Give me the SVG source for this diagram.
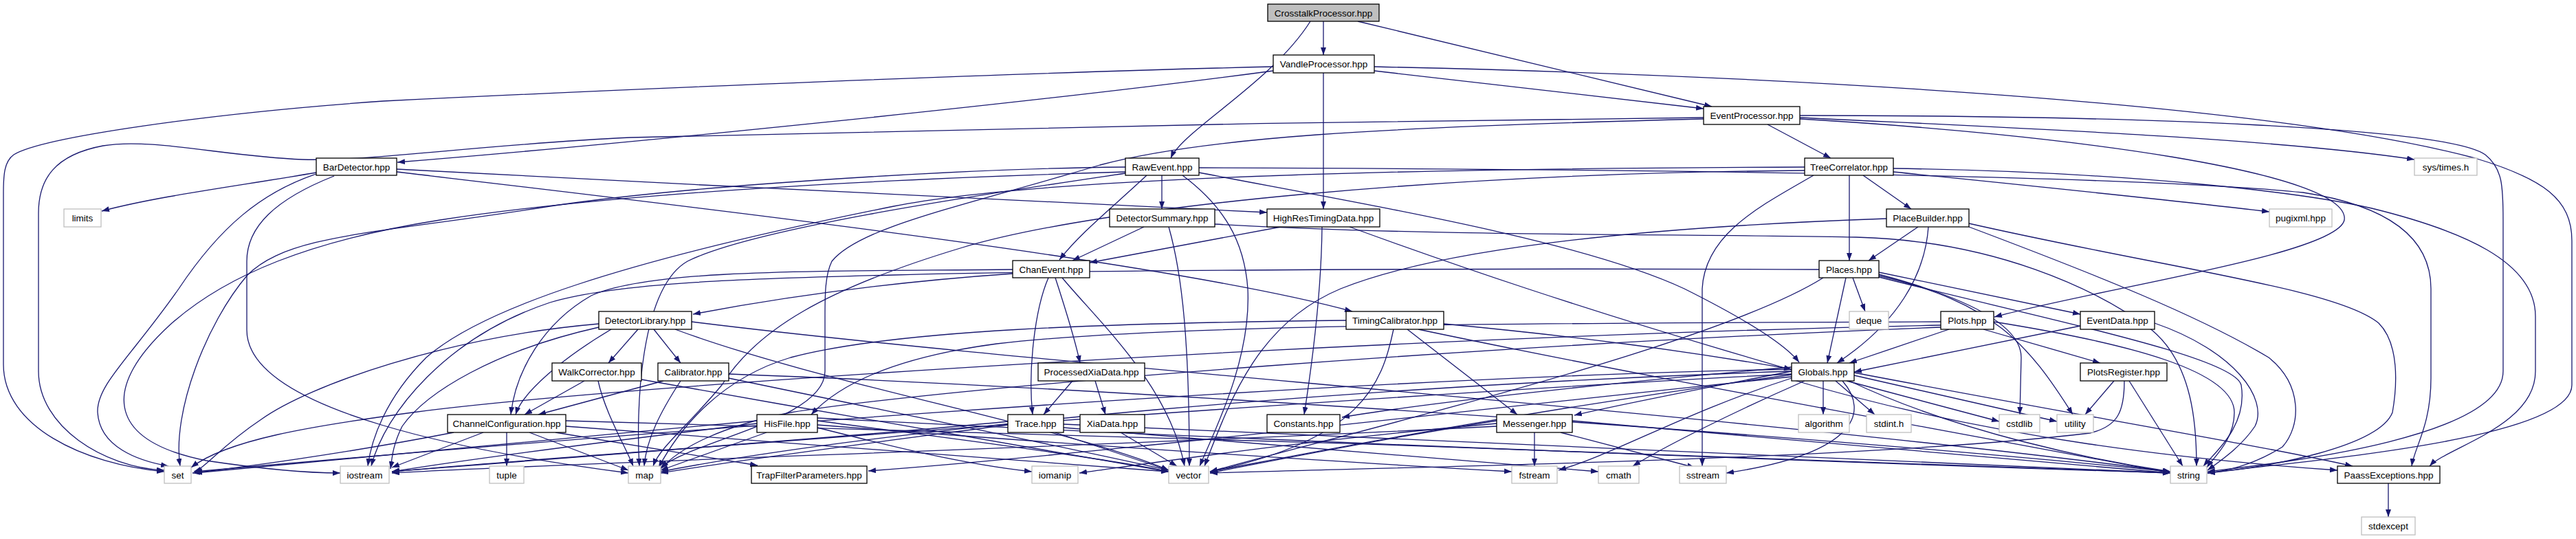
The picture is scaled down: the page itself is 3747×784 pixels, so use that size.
<svg xmlns="http://www.w3.org/2000/svg" width="3747" height="784" viewBox="0 0 3747 784">
<defs>
<style>
.b rect{fill:#fff;stroke:#000;stroke-width:1.3}
.g rect{fill:#fff;stroke:#bfbfbf;stroke-width:1.3}
.r rect{fill:#bfbfbf;stroke:#000;stroke-width:1.3}
text{font-family:"Liberation Sans",Arial,Helvetica,sans-serif;font-size:13.5px;text-anchor:middle;fill:#000}
#edges path{fill:none;stroke:#191970;stroke-width:1.3;marker-end:url(#a)}
</style>
<marker id="a" markerUnits="userSpaceOnUse" markerWidth="12" markerHeight="10" refX="11" refY="4" orient="auto"><path d="M0,0 L11,4 L0,8 z" fill="#191970"/></marker>
</defs>
<rect width="3747" height="784" fill="#fff"/>
<g id="edges">
<path d="M1925,31 L1925,80"/>
<path d="M1906,31 C1850,120 1720,190 1703,230"/>
<path d="M1975,31 L2490,155"/>
<path d="M1999,103 L2478,158"/>
<path d="M1925,106 L1925,304"/>
<path d="M1852,103 C1500,150 900,210 578,236"/>
<path d="M1852,97 C1500,105 900,130 558,147 C300,165 60,200 20,225 C6,235 5,255 5,280 L5,530 C5,620 120,675 239,686"/>
<path d="M1999,97 C2600,110 3300,150 3600,230 C3700,260 3741,290 3741,350 L3741,560 C3741,640 3350,670 3211,688"/>
<path d="M2571,181 L2663,230"/>
<path d="M2618,171 C2900,185 3300,200 3512,232"/>
<path d="M2618,168 C3100,168 3560,185 3615,225 C3640,245 3641,270 3641,320 L3641,540 C3641,640 3300,675 3211,686"/>
<path d="M2618,173 C3000,195 3420,250 3410,320 C3400,370 3050,420 2901,461"/>
<path d="M2478,171 C2000,175 1200,190 917,200 C700,210 540,235 440,232 C330,228 220,200 150,212 C80,225 56,260 56,310 L56,540 C56,620 150,680 239,684"/>
<path d="M2478,173 C2000,185 1750,200 1600,240 C1400,300 1250,330 1210,380 C1200,400 1200,430 1200,460 L1200,540 C1200,610 1010,640 961,680"/>
<path d="M460,251 C350,270 230,285 148,307"/>
<path d="M577,246 C1000,270 1500,290 1843,309"/>
<path d="M577,250 C1000,300 1700,380 1967,453"/>
<path d="M486,256 C400,290 359,330 359,380 L359,480 C359,600 700,660 914,688"/>
<path d="M460,253 C380,280 320,330 260,420 C190,520 140,560 142,600 C145,650 200,670 245,678"/>
<path d="M1690,255 L1690,304"/>
<path d="M1668,255 C1620,300 1570,340 1541,378"/>
<path d="M1744,251 C2000,300 2300,350 2450,420 C2550,470 2600,505 2617,527"/>
<path d="M1720,255 C1780,300 1810,350 1815,420 C1820,520 1770,620 1745,678"/>
<path d="M1637,243 C1400,245 1000,270 800,300 C550,340 420,340 360,400 C300,470 250,600 262,678"/>
<path d="M1637,250 C1300,260 900,280 640,320 C450,350 330,400 250,470 C150,560 150,640 300,670 C400,685 460,688 495,688"/>
<path d="M1637,252 C1450,280 1100,330 1000,380 C930,420 925,600 930,678"/>
<path d="M1744,244 C2400,246 3100,255 3350,280 C3480,300 3536,350 3536,420 L3536,550 C3536,620 3512,650 3508,678"/>
<path d="M1664,330 L1560,379"/>
<path d="M1700,330 C1720,400 1730,500 1730,678"/>
<path d="M1767,326 C2100,345 2500,340 2700,345 C2900,350 3050,420 3130,480 C3190,530 3195,620 3195,678"/>
<path d="M1863,330 L1585,382"/>
<path d="M1923,330 C1922,420 1910,520 1897,603"/>
<path d="M1963,330 C2100,380 2300,450 2606,538"/>
<path d="M1473,398 C1300,410 1150,430 1008,457"/>
<path d="M1473,392 C1200,395 950,390 860,430 C790,470 750,540 743,603"/>
<path d="M1525,404 C1505,450 1495,540 1502,603"/>
<path d="M1535,404 C1550,450 1565,500 1571,528"/>
<path d="M1545,404 C1600,470 1700,560 1723,678"/>
<path d="M928,479 L885,528"/>
<path d="M951,479 L990,528"/>
<path d="M889,479 C820,520 760,570 750,603"/>
<path d="M871,471 C650,490 450,560 380,610 C320,650 300,680 282,686"/>
<path d="M871,476 C720,510 620,570 585,620 C570,650 570,670 568,682"/>
<path d="M982,479 C1200,560 1550,620 1700,684"/>
<path d="M1006,468 C1500,530 2500,600 3157,686"/>
<path d="M850,554 L763,603"/>
<path d="M870,554 C880,600 910,650 921,678"/>
<path d="M933,552 C1200,600 1500,650 1700,686"/>
<path d="M965,554 L783,603"/>
<path d="M990,554 C960,600 940,640 937,678"/>
<path d="M1060,544 C1500,560 2500,620 3157,686"/>
<path d="M1060,550 C1300,600 1550,650 1700,684"/>
<path d="M737,629 L737,678"/>
<path d="M660,629 C500,660 350,680 280,688"/>
<path d="M703,629 L570,680"/>
<path d="M770,629 L914,684"/>
<path d="M808,629 L1102,677"/>
<path d="M823,612 C1500,630 2500,660 3157,688"/>
<path d="M823,620 C1100,640 1400,665 1700,686"/>
<path d="M1101,612 C800,640 450,670 283,688"/>
<path d="M1101,616 C900,640 700,665 570,686"/>
<path d="M1115,629 L961,684"/>
<path d="M1189,612 C1400,640 1600,665 1700,686"/>
<path d="M1189,608 C1800,640 2600,670 3157,688"/>
<path d="M1189,618 C1600,650 2000,675 2199,686"/>
<path d="M1189,622 C1300,650 1400,675 1501,686"/>
<path d="M1466,613 C1200,640 800,665 570,686"/>
<path d="M1466,618 C1300,640 1100,665 961,688"/>
<path d="M1535,629 L1700,684"/>
<path d="M1547,617 C2000,640 2700,665 3157,688"/>
<path d="M1547,622 C1900,650 2200,675 2325,686"/>
<path d="M1630,629 L1712,678"/>
<path d="M1560,554 L1518,603"/>
<path d="M1593,554 L1608,603"/>
<path d="M2047,479 L2207,603"/>
<path d="M2027,479 C2010,560 1980,640 1760,686"/>
<path d="M2100,471 C2300,490 2450,510 2606,537"/>
<path d="M1958,466 C1600,470 1300,480 1150,520 C1050,550 990,620 958,680"/>
<path d="M2063,479 C2400,550 2800,620 3157,688"/>
<path d="M2232,629 L2232,678"/>
<path d="M2270,629 L2465,680"/>
<path d="M2177,612 C2000,640 1850,670 1760,688"/>
<path d="M2177,616 C1900,640 1700,670 1570,688"/>
<path d="M2287,612 C2600,640 2900,665 3157,688"/>
<path d="M2177,620 C1600,650 900,670 570,688"/>
<path d="M2652,554 L2652,603"/>
<path d="M2670,554 L2727,603"/>
<path d="M2686,554 L2908,613"/>
<path d="M2697,546 L2992,613"/>
<path d="M2690,554 C2850,630 3050,670 3157,686"/>
<path d="M2697,542 C3000,600 3300,650 3422,678"/>
<path d="M2680,554 C2720,600 2700,660 2511,688"/>
<path d="M2625,554 C2520,600 2420,650 2375,678"/>
<path d="M2606,534 C2300,560 2050,590 1952,607"/>
<path d="M2606,540 C2450,570 2350,590 2290,604"/>
<path d="M2606,545 C2200,600 1900,660 1760,686"/>
<path d="M2606,540 C2000,560 1300,620 961,686"/>
<path d="M2606,544 C1900,580 900,660 570,686"/>
<path d="M2606,548 C2100,600 1600,660 1263,685"/>
<path d="M2606,537 C1900,550 800,640 283,686"/>
<path d="M2606,550 C2450,600 2350,660 2267,684"/>
<path d="M2606,552 C2900,640 3200,670 3400,684"/>
<path d="M3474,703 L3474,752"/>
<path d="M2690,255 L2690,379"/>
<path d="M2710,255 L2780,304"/>
<path d="M2754,250 C2950,270 3150,290 3301,308"/>
<path d="M2754,245 C3100,250 3350,280 3450,303 C3580,335 3688,380 3688,460 L3688,540 C3688,620 3560,650 3534,678"/>
<path d="M2638,255 C2560,300 2480,340 2476,420 L2476,678"/>
<path d="M2625,243 C2000,245 1500,260 1300,300 C900,380 700,450 620,520 C560,580 540,640 535,678"/>
<path d="M2625,248 C2100,252 1600,300 1400,360 C1200,420 1100,480 1050,560 C1000,620 960,650 950,678"/>
<path d="M2695,404 L2713,453"/>
<path d="M2685,404 L2658,528"/>
<path d="M2733,396 L3026,457"/>
<path d="M2733,399 C2850,430 2940,470 2940,520 L2938,603"/>
<path d="M2733,401 C2900,440 2950,500 3015,603"/>
<path d="M2733,403 C3000,470 3250,520 3260,560 C3270,620 3220,660 3205,678"/>
<path d="M2652,404 C2500,500 2000,620 1760,686"/>
<path d="M2646,392 C2200,390 1600,392 1300,400 C1100,405 900,410 800,440 C650,490 560,600 540,678"/>
<path d="M2790,330 L2718,379"/>
<path d="M2805,330 C2800,400 2760,470 2672,528"/>
<path d="M2864,325 C3150,390 3400,420 3460,470 C3490,500 3487,560 3480,600 C3460,650 3300,680 3211,688"/>
<path d="M2864,330 C3050,400 3200,460 3300,520 C3350,560 3347,620 3320,650 C3280,675 3240,685 3211,688"/>
<path d="M2744,318 C2400,330 2100,360 1950,420 C1830,470 1790,580 1752,678"/>
<path d="M2835,479 L2690,528"/>
<path d="M2885,479 L3055,528"/>
<path d="M2900,468 C3100,500 3250,540 3250,600 C3250,640 3220,665 3210,680"/>
<path d="M2823,468 C2300,470 1700,470 1450,500 C1300,520 1220,560 1180,603"/>
<path d="M2823,473 C2000,490 900,560 600,600 C450,620 330,640 278,680"/>
<path d="M2823,476 C2200,500 1400,560 1150,600 C1050,620 990,650 961,682"/>
<path d="M3026,474 L2697,541"/>
<path d="M3134,470 C3250,510 3300,580 3280,620 C3260,650 3230,670 3211,684"/>
<path d="M3075,554 L3033,603"/>
<path d="M3097,554 L3175,678"/>
<path d="M3090,554 C3090,600 3080,620 3040,630 C2700,670 2000,680 1760,688"/>
</g>
<g id="n_crosstalk" class="r"><rect x="1844" y="6" width="162" height="25"/><text x="1925" y="23.5">CrosstalkProcessor.hpp</text></g>
<g id="n_vandle" class="b"><rect x="1852" y="80" width="147" height="26"/><text x="1925.5" y="98">VandleProcessor.hpp</text></g>
<g id="n_eventprocessor" class="b"><rect x="2478" y="155" width="140" height="26"/><text x="2548" y="173">EventProcessor.hpp</text></g>
<g id="n_bardetector" class="b"><rect x="460" y="230" width="117" height="25"/><text x="518.5" y="247.5">BarDetector.hpp</text></g>
<g id="n_rawevent" class="b"><rect x="1637" y="230" width="107" height="25"/><text x="1690.5" y="247.5">RawEvent.hpp</text></g>
<g id="n_treecorrelator" class="b"><rect x="2625" y="230" width="129" height="25"/><text x="2689.5" y="247.5">TreeCorrelator.hpp</text></g>
<g id="n_systimes" class="g"><rect x="3512" y="230" width="91" height="25"/><text x="3557.5" y="247.5">sys/times.h</text></g>
<g id="n_limits" class="g"><rect x="93" y="304" width="54" height="26"/><text x="120" y="322">limits</text></g>
<g id="n_detectorsummary" class="b"><rect x="1614" y="304" width="153" height="26"/><text x="1690.5" y="322">DetectorSummary.hpp</text></g>
<g id="n_highres" class="b"><rect x="1843" y="304" width="164" height="26"/><text x="1925" y="322">HighResTimingData.hpp</text></g>
<g id="n_placebuilder" class="b"><rect x="2744" y="304" width="120" height="26"/><text x="2804" y="322">PlaceBuilder.hpp</text></g>
<g id="n_pugixml" class="g"><rect x="3301" y="304" width="91" height="26"/><text x="3346.5" y="322">pugixml.hpp</text></g>
<g id="n_chanevent" class="b"><rect x="1473" y="379" width="112" height="25"/><text x="1529" y="396.5">ChanEvent.hpp</text></g>
<g id="n_places" class="b"><rect x="2646" y="379" width="87" height="25"/><text x="2689.5" y="396.5">Places.hpp</text></g>
<g id="n_detectorlibrary" class="b"><rect x="871" y="453" width="135" height="26"/><text x="938.5" y="471">DetectorLibrary.hpp</text></g>
<g id="n_timingcalibrator" class="b"><rect x="1958" y="453" width="142" height="26"/><text x="2029" y="471">TimingCalibrator.hpp</text></g>
<g id="n_deque" class="g"><rect x="2690" y="453" width="57" height="26"/><text x="2718.5" y="471">deque</text></g>
<g id="n_plots" class="b"><rect x="2823" y="453" width="77" height="26"/><text x="2861.5" y="471">Plots.hpp</text></g>
<g id="n_eventdata" class="b"><rect x="3026" y="453" width="108" height="26"/><text x="3080" y="471">EventData.hpp</text></g>
<g id="n_walkcorrector" class="b"><rect x="803" y="528" width="130" height="26"/><text x="868" y="546">WalkCorrector.hpp</text></g>
<g id="n_calibrator" class="b"><rect x="957" y="528" width="103" height="26"/><text x="1008.5" y="546">Calibrator.hpp</text></g>
<g id="n_processedxiadata" class="b"><rect x="1510" y="528" width="155" height="26"/><text x="1587.5" y="546">ProcessedXiaData.hpp</text></g>
<g id="n_globals" class="b"><rect x="2606" y="528" width="91" height="26"/><text x="2651.5" y="546">Globals.hpp</text></g>
<g id="n_plotsregister" class="b"><rect x="3026" y="528" width="126" height="26"/><text x="3089" y="546">PlotsRegister.hpp</text></g>
<g id="n_channelconfiguration" class="b"><rect x="651" y="603" width="172" height="26"/><text x="737" y="621">ChannelConfiguration.hpp</text></g>
<g id="n_hisfile" class="b"><rect x="1101" y="603" width="88" height="26"/><text x="1145" y="621">HisFile.hpp</text></g>
<g id="n_trace" class="b"><rect x="1466" y="603" width="81" height="26"/><text x="1506.5" y="621">Trace.hpp</text></g>
<g id="n_xiadata" class="b"><rect x="1571" y="603" width="94" height="26"/><text x="1618" y="621">XiaData.hpp</text></g>
<g id="n_constants" class="b"><rect x="1843" y="603" width="106" height="26"/><text x="1896" y="621">Constants.hpp</text></g>
<g id="n_messenger" class="b"><rect x="2177" y="603" width="110" height="26"/><text x="2232" y="621">Messenger.hpp</text></g>
<g id="n_algorithm" class="g"><rect x="2616" y="603" width="74" height="26"/><text x="2653" y="621">algorithm</text></g>
<g id="n_stdint" class="g"><rect x="2715" y="603" width="65" height="26"/><text x="2747.5" y="621">stdint.h</text></g>
<g id="n_cstdlib" class="g"><rect x="2908" y="603" width="59" height="26"/><text x="2937.5" y="621">cstdlib</text></g>
<g id="n_utility" class="g"><rect x="2992" y="603" width="53" height="26"/><text x="3018.5" y="621">utility</text></g>
<g id="n_set" class="g"><rect x="239" y="678" width="39" height="25"/><text x="258.5" y="695.5">set</text></g>
<g id="n_iostream" class="g"><rect x="495" y="678" width="71" height="25"/><text x="530.5" y="695.5">iostream</text></g>
<g id="n_tuple" class="g"><rect x="712" y="678" width="50" height="25"/><text x="737" y="695.5">tuple</text></g>
<g id="n_map" class="g"><rect x="914" y="678" width="47" height="25"/><text x="937.5" y="695.5">map</text></g>
<g id="n_trapfilter" class="b"><rect x="1093" y="678" width="168" height="25"/><text x="1177" y="695.5">TrapFilterParameters.hpp</text></g>
<g id="n_iomanip" class="g"><rect x="1501" y="678" width="67" height="25"/><text x="1534.5" y="695.5">iomanip</text></g>
<g id="n_vector" class="g"><rect x="1700" y="678" width="58" height="25"/><text x="1729" y="695.5">vector</text></g>
<g id="n_fstream" class="g"><rect x="2199" y="678" width="66" height="25"/><text x="2232" y="695.5">fstream</text></g>
<g id="n_cmath" class="g"><rect x="2325" y="678" width="59" height="25"/><text x="2354.5" y="695.5">cmath</text></g>
<g id="n_sstream" class="g"><rect x="2443" y="678" width="68" height="25"/><text x="2477" y="695.5">sstream</text></g>
<g id="n_string" class="g"><rect x="3157" y="678" width="53" height="25"/><text x="3183.5" y="695.5">string</text></g>
<g id="n_paassexceptions" class="b"><rect x="3400" y="678" width="149" height="25"/><text x="3474.5" y="695.5">PaassExceptions.hpp</text></g>
<g id="n_stdexcept" class="g"><rect x="3435" y="752" width="78" height="26"/><text x="3474" y="770">stdexcept</text></g>
</svg>
